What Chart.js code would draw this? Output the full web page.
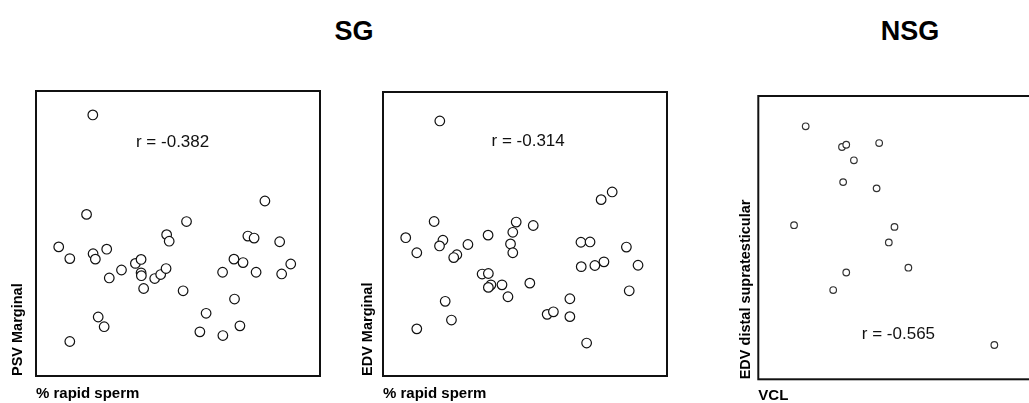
<!DOCTYPE html>
<html>
<head>
<meta charset="utf-8">
<script src="https://cdn.jsdelivr.net/npm/chart.js@4/dist/chart.umd.min.js"></script>
<style>
  html, body { margin: 0; padding: 0; background: #fff; overflow: hidden; }
  #wrap { position: relative; width: 1029px; height: 403px; overflow: hidden; }
  #wrap canvas { position: absolute; top: 0; }
  .ttl { position: absolute; transform: translate(-50%, -50%); font: bold 27px "Liberation Sans", Arial, sans-serif; color: #000; }
</style>
</head>
<body>
<div id="wrap">
  <div class="ttl" style="left:354px;top:31px">SG</div>
  <div class="ttl" style="left:910px;top:31px">NSG</div>
  <canvas id="c1" width="326" height="403" style="left:0px"></canvas>
  <canvas id="c2" width="323" height="403" style="left:350px"></canvas>
  <canvas id="c3" width="319" height="405" style="left:728px"></canvas>
</div>
<script>
// SG: PSV marginal vs % rapid sperm
const psvX = [20.0, 17.8, 8.0, 11.9, 20.1, 20.9, 24.9, 25.8, 30.1, 35.0, 37.0, 37.0, 37.1, 37.9, 41.8, 43.9, 45.8, 46.0, 46.9, 53.0,
  51.8, 21.9, 24.0, 11.9, 57.7, 59.9, 65.8, 71.8, 69.9, 65.7, 69.7, 72.9, 74.6, 76.8, 77.5, 80.6, 85.8, 86.5, 89.7];
const psvY = [91.6, 56.7, 45.3, 41.2, 42.9, 41.0, 44.5, 34.4, 37.2, 39.5, 40.9, 36.2, 35.2, 30.7, 34.2, 35.6, 37.7, 49.6, 47.3, 54.2,
  29.9, 20.7, 17.3, 12.1, 15.5, 22.0, 14.2, 17.6, 27.0, 36.4, 41.0, 39.8, 49.1, 48.4, 36.4, 61.4, 47.1, 35.8, 39.3];

// SG: EDV marginal vs % rapid sperm
const edvX = [20.0, 18.0, 8.0, 11.9, 21.1, 19.9, 26.0, 24.9, 29.9, 37.0, 46.9, 45.7, 44.9, 45.7, 52.9, 34.9, 37.1, 38.0, 37.1, 41.9,
  44.0, 51.7, 21.9, 24.1, 11.9, 57.8, 60.0, 65.8, 65.8, 71.7, 69.7, 72.9, 69.8, 74.6, 77.8, 76.8, 80.7, 85.7, 89.8, 86.7];
const edvY = [89.8, 54.4, 48.7, 43.4, 47.8, 45.8, 42.7, 41.7, 46.3, 49.6, 54.2, 50.6, 46.5, 43.4, 53.0, 35.9, 36.1, 32.1, 31.2, 32.1,
  27.9, 32.7, 26.3, 19.7, 16.6, 21.7, 22.6, 27.2, 20.9, 11.6, 47.1, 47.2, 38.5, 38.9, 40.2, 62.1, 64.8, 45.4, 39.0, 30.0];

// NSG: EDV distal supratesticular vs VCL
const vclX = [16.7, 29.5, 31.0, 42.6, 33.7, 29.9, 41.7, 12.6, 48.0, 46.0, 52.9, 31.0, 26.4, 83.2];
const vclY = [89.3, 82.0, 82.8, 83.4, 77.3, 69.6, 67.4, 54.4, 53.8, 48.3, 39.4, 37.7, 31.5, 12.1];

const rTexts = ["r = -0.382", "r = -0.314", "r = -0.565"];

Chart.defaults.font.family = '"Liberation Sans", Arial, sans-serif';
Chart.defaults.color = "#000";

// rectangle round the plot area
const boxPlugin = {
  id: "box",
  afterDraw(chart) {
    const { ctx, chartArea: a } = chart;
    ctx.save();
    ctx.strokeStyle = "#111";
    ctx.lineWidth = 2;
    ctx.strokeRect(a.left, a.top, a.right - a.left, a.bottom - a.top);
    ctx.restore();
  }
};

// correlation label, placed in data units
const rPlugin = {
  id: "rLabel",
  afterDraw(chart, args, opts) {
    if (!opts.text) return;
    const { ctx, scales } = chart;
    ctx.save();
    ctx.font = '17px "Liberation Sans", Arial, sans-serif';
    ctx.fillStyle = "#111";
    ctx.textAlign = "center";
    ctx.textBaseline = "middle";
    ctx.fillText(opts.text, scales.x.getPixelForValue(opts.x), scales.y.getPixelForValue(opts.y));
    ctx.restore();
  }
};

function makeScatter(id, xs, ys, o) {
  const pts = xs.map((x, i) => ({ x, y: ys[i] }));
  const axisFont = { size: 14.5, weight: "bold" };
  return new Chart(document.getElementById(id), {
    type: "scatter",
    data: {
      datasets: [{
        data: pts,
        pointRadius: o.radius,
        pointHoverRadius: o.radius,
        pointBorderWidth: 1.2,
        pointBorderColor: o.pointColor,
        pointBackgroundColor: "#fff"
      }]
    },
    options: {
      responsive: false,
      animation: false,
      events: [],
      layout: { padding: { left: 0, top: o.top, right: 5, bottom: 0 } },
      plugins: {
        legend: { display: false },
        tooltip: { enabled: false },
        rLabel: o.label
      },
      scales: {
        x: {
          min: 0, max: 100,
          ticks: { display: false },
          grid: { display: false, drawTicks: false },
          border: { display: false },
          title: { display: true, text: o.xTitle, align: "start", font: { size: 15, weight: "bold" }, color: "#000", padding: o.xPad }
        },
        y: {
          min: 0, max: 100,
          ticks: { display: false },
          grid: { display: false, drawTicks: false },
          border: { display: false },
          title: { display: true, text: o.yTitle, align: "start", font: axisFont, color: "#000", padding: o.yPad }
        }
      }
    },
    plugins: [boxPlugin, rPlugin]
  });
}

makeScatter("c1", psvX, psvY, {
  radius: 4.8, pointColor: "#111", top: 91,
  xTitle: "% rapid sperm", yTitle: "PSV Marginal",
  xPad: { top: 9, bottom: 0 }, yPad: { top: 9.3, bottom: 9.3 },
  label: { text: rTexts[0], x: 48.1, y: 82.1 }
});

makeScatter("c2", edvX, edvY, {
  radius: 4.8, pointColor: "#111", top: 92,
  xTitle: "% rapid sperm", yTitle: "EDV Marginal",
  xPad: { top: 9, bottom: 0 }, yPad: { top: 9.3, bottom: 6.3 },
  label: { text: rTexts[1], x: 51.1, y: 82.5 }
});

makeScatter("c3", vclX, vclY, {
  radius: 3.3, pointColor: "#333", top: 96,
  xTitle: "VCL", yTitle: "EDV distal supratesticular",
  xPad: { top: 7.4, bottom: 0.3 }, yPad: { top: 9.3, bottom: 3.6 },
  label: { text: rTexts[2], x: 49.4, y: 15.9 }
});
</script>
</body>
</html>
